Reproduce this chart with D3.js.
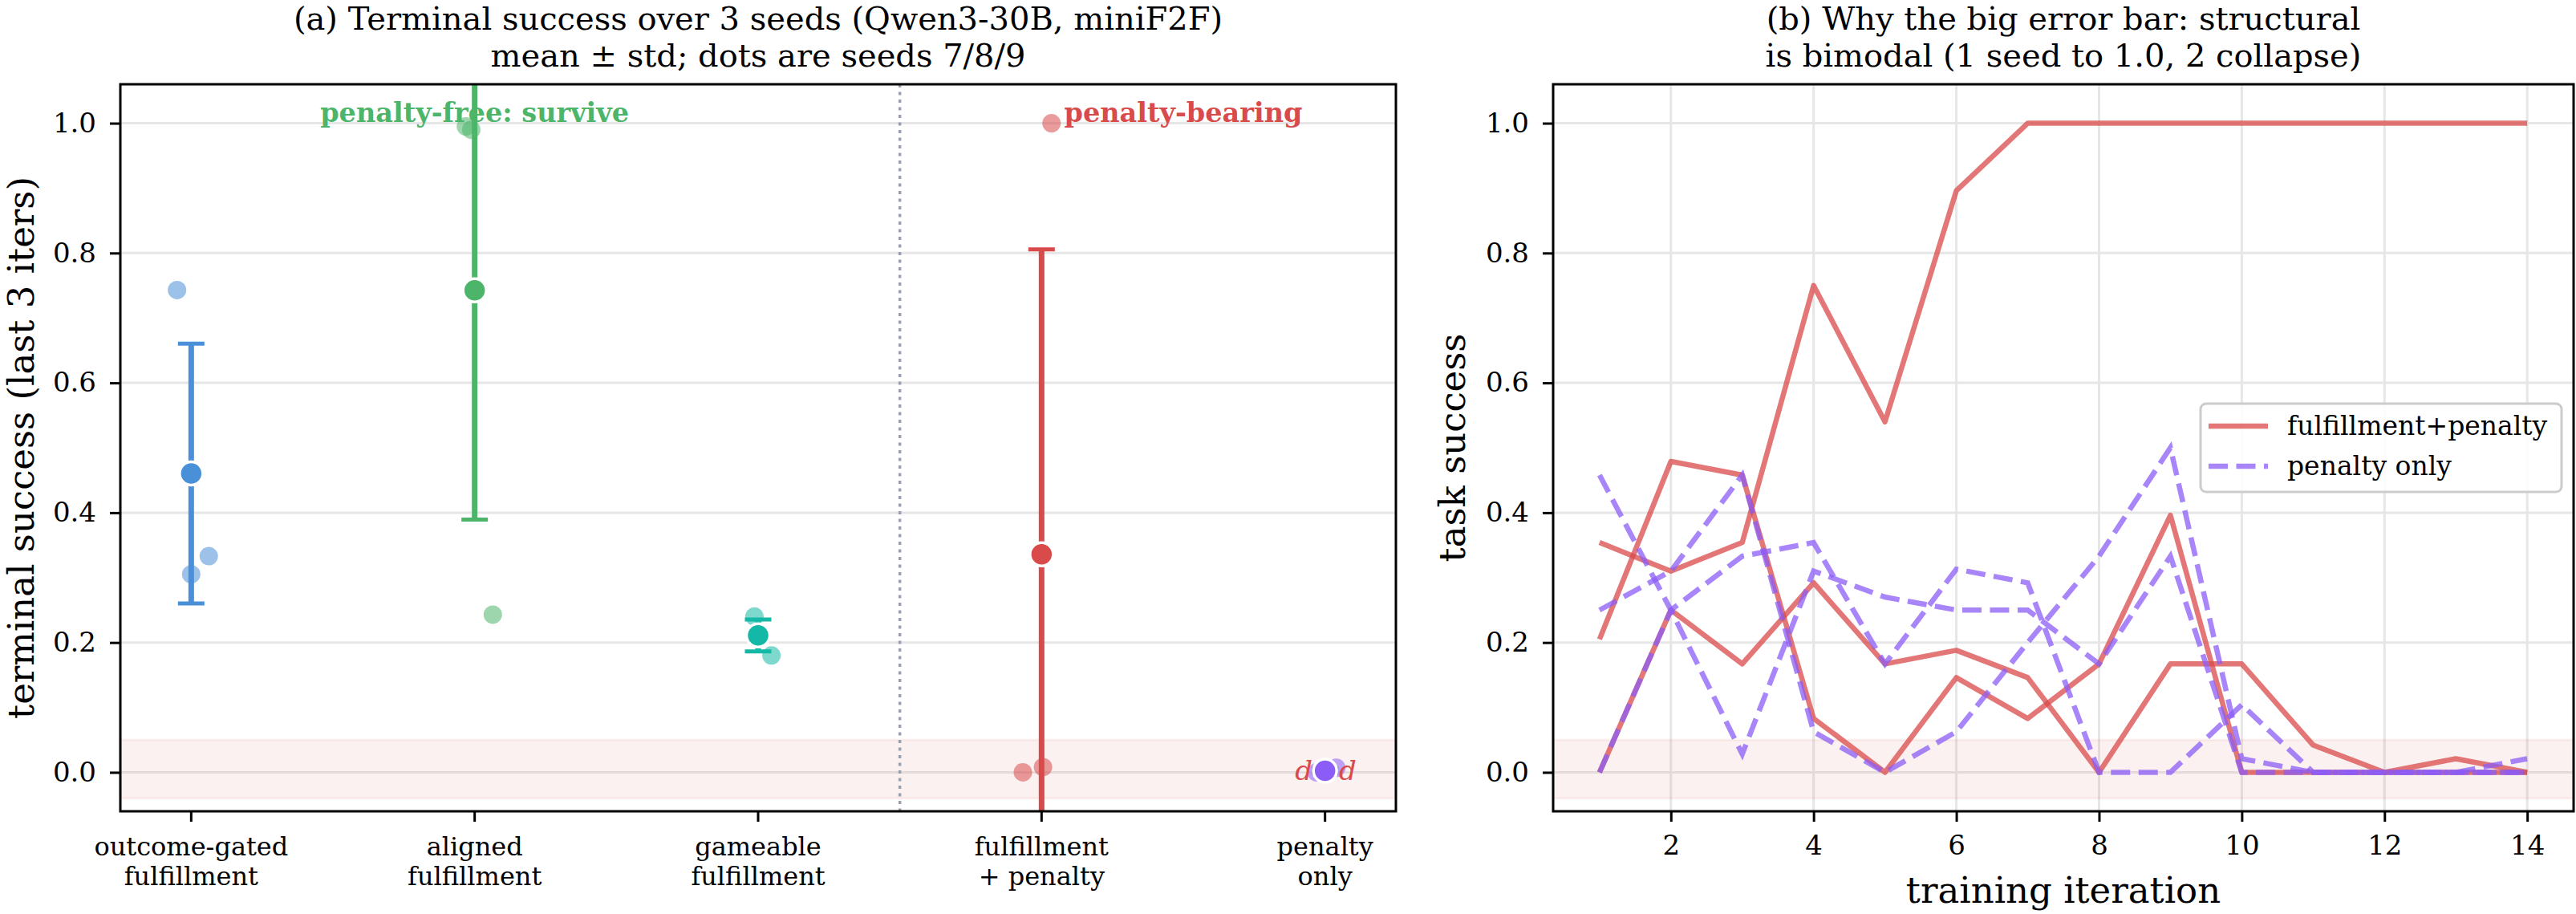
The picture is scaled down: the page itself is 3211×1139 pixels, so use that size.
<!DOCTYPE html>
<html>
<head>
    <script src="https://d3js.org/d3.v7.min.js"></script>
    <style>
        body { margin: 0; background: #fff; }
        text { font-family: "DejaVu Serif", serif; }
    </style>
</head>
<body>
    <div id="chart"></div>

    <script>
        // ---- data: panel (a) ----
        const categories = [
            ["outcome-gated", "fulfillment"],
            ["aligned", "fulfillment"],
            ["gameable", "fulfillment"],
            ["fulfillment", "+ penalty"],
            ["penalty", "only"]
        ];
        // terminal success per seed (7/8/9)
        const seedValues = [
            [0.743, 0.305, 0.333],
            [0.995, 0.99, 0.243],
            [0.24, 0.213, 0.18],
            [0.0, 0.008, 1.0],
            [0.0, 0.0, 0.007]
        ];
        const seedJitter = [
            [-0.05, 0, 0.062],
            [-0.031, -0.012, 0.064],
            [-0.013, 0, 0.047],
            [-0.066, 0.005, 0.035],
            [-0.03, 0, 0.04]
        ];
        const catColors = ["#4a90d9", "#4db56a", "#14b8a6", "#d94a4a", "#8b5cf6"];
        const yTicks = [0.0, 0.2, 0.4, 0.6, 0.8, 1.0];

        // ---- data: panel (b) ----
        const iterations = d3.range(1, 15);
        const fulfillPenalty = [
            [0.354, 0.31, 0.354, 0.75, 0.54, 0.896, 1, 1, 1, 1, 1, 1, 1, 1],
            [0.205, 0.479, 0.458, 0.083, 0, 0.146, 0.083, 0.167, 0.396, 0, 0, 0, 0, 0],
            [0, 0.25, 0.167, 0.292, 0.167, 0.188, 0.146, 0, 0.167, 0.167, 0.042, 0, 0.021, 0]
        ];
        const penaltyOnly = [
            [0.458, 0.25, 0.028, 0.31, 0.27, 0.25, 0.25, 0.167, 0.333, 0, 0, 0, 0, 0],
            [0, 0.25, 0.333, 0.354, 0.167, 0.313, 0.292, 0, 0, 0.104, 0, 0, 0, 0],
            [0.25, 0.31, 0.458, 0.0625, 0, 0.0625, 0.2, 0.333, 0.5, 0.021, 0, 0, 0, 0.021]
        ];
        const xTicksB = [2, 4, 6, 8, 10, 12, 14];

        const W = 3211, H = 1139;
        const svg = d3.select("#chart").append("svg")
            .attr("width", W).attr("height", H)
            .style("display", "block");
        svg.append("rect").attr("width", W).attr("height", H).attr("fill", "#fff");

        const plotTop = 105, plotBottom = 1011;
        const y = d3.scaleLinear().domain([-0.06, 1.06]).range([plotBottom, plotTop]);

        const gridColor = "#e6e6e6";
        const lineW = 6.5, dashes = "24,10.5";

        function drawYGrid(g, x0, x1) {
            g.append("g").selectAll("line").data(yTicks).join("line")
                .attr("x1", x0).attr("x2", x1)
                .attr("y1", d => y(d)).attr("y2", d => y(d))
                .attr("stroke", gridColor).attr("stroke-width", 3);
        }

        function band(g, x0, x1) {
            g.append("rect")
                .attr("x", x0).attr("width", x1 - x0)
                .attr("y", y(0.05)).attr("height", y(-0.04) - y(0.05))
                .attr("fill", "#d94a4a").attr("fill-opacity", 0.08)
                .attr("stroke", "#d94a4a").attr("stroke-opacity", 0.08)
                .attr("stroke-width", 3);
        }

        function frame(g, x0, x1) {
            g.append("rect").attr("x", x0).attr("y", plotTop)
                .attr("width", x1 - x0).attr("height", plotBottom - plotTop)
                .attr("fill", "none").attr("stroke", "#000").attr("stroke-width", 3);
            const ya = g.append("g").attr("transform", `translate(${x0},0)`)
                .call(d3.axisLeft(y).tickValues(yTicks).tickFormat(d3.format(".1f"))
                    .tickSize(13).tickPadding(17));
            ya.select(".domain").remove();
            ya.selectAll(".tick line").attr("stroke-width", 3);
            ya.selectAll(".tick text").attr("font-size", 34)
                .attr("font-family", "DejaVu Serif").attr("fill", "#000");
        }

        // ================= panel (a) =================
        const ax0 = 150, ax1 = 1740;
        const xa = d3.scaleLinear().domain([-0.25, 4.25]).range([ax0, ax1]);
        const pa = svg.append("g");

        pa.append("clipPath").attr("id", "clipA").append("rect")
            .attr("x", ax0).attr("y", plotTop).attr("width", ax1 - ax0).attr("height", plotBottom - plotTop);

        drawYGrid(pa, ax0, ax1);
        band(pa, ax0, ax1);

        pa.append("line")
            .attr("x1", xa(2.5)).attr("x2", xa(2.5)).attr("y1", plotTop).attr("y2", plotBottom)
            .attr("stroke", "#9aa0ab").attr("stroke-width", 3.5).attr("stroke-dasharray", "4,5.5");

        const stats = seedValues.map(v => {
            const m = d3.mean(v);
            const sd = Math.sqrt(d3.mean(v, d => (d - m) * (d - m)));
            return { mean: m, sd: sd };
        });

        const plotA = pa.append("g").attr("clip-path", "url(#clipA)");

        // error bars
        stats.forEach((s, i) => {
            const cx = xa(i);
            const c = catColors[i];
            plotA.append("line").attr("x1", cx).attr("x2", cx)
                .attr("y1", y(s.mean - s.sd)).attr("y2", y(s.mean + s.sd))
                .attr("stroke", c).attr("stroke-width", 7);
            [s.mean - s.sd, s.mean + s.sd].forEach(v => {
                plotA.append("line").attr("x1", cx - 16.5).attr("x2", cx + 16.5)
                    .attr("y1", y(v)).attr("y2", y(v))
                    .attr("stroke", c).attr("stroke-width", 5);
            });
        });

        // seed dots
        seedValues.forEach((vals, i) => {
            plotA.append("g").selectAll("circle").data(vals).join("circle")
                .attr("cx", (d, j) => xa(i + seedJitter[i][j]))
                .attr("cy", d => y(d))
                .attr("r", 11.5)
                .attr("fill", catColors[i]).attr("fill-opacity", 0.55);
        });

        // means
        plotA.append("g").selectAll("circle").data(stats).join("circle")
            .attr("cx", (d, i) => xa(i)).attr("cy", d => y(d.mean))
            .attr("r", 14.5)
            .attr("fill", (d, i) => catColors[i])
            .attr("stroke", "#fff").attr("stroke-width", 3.5);

        // "d" markers around penalty-only
        [-0.075, 0.08].forEach(off => {
            pa.append("text").attr("x", xa(4 + off)).attr("y", y(0) + 10)
                .attr("text-anchor", "middle").attr("font-size", 34)
                .attr("font-style", "italic").attr("fill", "#d94a4a").text("d");
        });

        pa.append("text").attr("x", xa(1)).attr("y", y(1.0) - 2)
            .attr("text-anchor", "middle").attr("font-size", 33.5).attr("font-weight", "bold")
            .attr("fill", "#4db56a").text("penalty-free: survive");
        pa.append("text").attr("x", xa(3.5)).attr("y", y(1.0) - 2)
            .attr("text-anchor", "middle").attr("font-size", 33.5).attr("font-weight", "bold")
            .attr("fill", "#d94a4a").text("penalty-bearing");

        frame(pa, ax0, ax1);

        // category ticks
        const xaAxis = pa.append("g").attr("transform", `translate(0,${plotBottom})`);
        categories.forEach((lines, i) => {
            xaAxis.append("line").attr("x1", xa(i)).attr("x2", xa(i)).attr("y1", 0).attr("y2", 13)
                .attr("stroke", "#000").attr("stroke-width", 3);
            const t = xaAxis.append("text").attr("x", xa(i)).attr("y", 55)
                .attr("text-anchor", "middle").attr("font-size", 32);
            lines.forEach((ln, k) => {
                t.append("tspan").attr("x", xa(i)).attr("dy", k === 0 ? 0 : 37).text(ln);
            });
        });

        pa.append("text").attr("transform", `translate(${ax0 - 108},${(plotTop + plotBottom) / 2}) rotate(-90)`)
            .attr("text-anchor", "middle").attr("font-size", 45)
            .text("terminal success (last 3 iters)");

        const titleA = pa.append("text").attr("x", (ax0 + ax1) / 2).attr("y", 37)
            .attr("text-anchor", "middle").attr("font-size", 40);
        titleA.append("tspan").attr("x", (ax0 + ax1) / 2).text("(a) Terminal success over 3 seeds (Qwen3-30B, miniF2F)");
        titleA.append("tspan").attr("x", (ax0 + ax1) / 2).attr("dy", 46).text("mean \u00b1 std; dots are seeds 7/8/9");

        // ================= panel (b) =================
        const bx0 = 1936, bx1 = 3208;
        const xb = d3.scaleLinear().domain([0.35, 14.65]).range([bx0, bx1]);
        const pb = svg.append("g");

        pb.append("clipPath").attr("id", "clipB").append("rect")
            .attr("x", bx0).attr("y", plotTop).attr("width", bx1 - bx0).attr("height", plotBottom - plotTop);

        drawYGrid(pb, bx0, bx1);
        pb.append("g").selectAll("line").data(xTicksB).join("line")
            .attr("x1", d => xb(d)).attr("x2", d => xb(d))
            .attr("y1", plotTop).attr("y2", plotBottom)
            .attr("stroke", gridColor).attr("stroke-width", 3);
        band(pb, bx0, bx1);

        const line = d3.line().x((d, i) => xb(iterations[i])).y(d => y(d));
        const plotB = pb.append("g").attr("clip-path", "url(#clipB)");

        plotB.append("g").selectAll("path").data(fulfillPenalty).join("path")
            .attr("d", line).attr("fill", "none")
            .attr("stroke", "#d94a4a").attr("stroke-opacity", 0.75)
            .attr("stroke-width", lineW).attr("stroke-linejoin", "round");

        plotB.append("g").selectAll("path").data(penaltyOnly).join("path")
            .attr("d", line).attr("fill", "none")
            .attr("stroke", "#8b5cf6").attr("stroke-opacity", 0.75)
            .attr("stroke-width", lineW).attr("stroke-dasharray", dashes);

        frame(pb, bx0, bx1);

        const xbAxis = pb.append("g").attr("transform", `translate(0,${plotBottom})`)
            .call(d3.axisBottom(xb).tickValues(xTicksB).tickSize(13).tickPadding(17));
        xbAxis.select(".domain").remove();
        xbAxis.selectAll(".tick line").attr("stroke-width", 3);
        xbAxis.selectAll(".tick text").attr("font-size", 34)
            .attr("font-family", "DejaVu Serif").attr("fill", "#000");

        pb.append("text").attr("transform", `translate(${bx0 - 110},${(plotTop + plotBottom) / 2}) rotate(-90)`)
            .attr("text-anchor", "middle").attr("font-size", 45).text("task success");
        pb.append("text").attr("x", (bx0 + bx1) / 2).attr("y", 1125)
            .attr("text-anchor", "middle").attr("font-size", 45).text("training iteration");

        const titleB = pb.append("text").attr("x", (bx0 + bx1) / 2).attr("y", 37)
            .attr("text-anchor", "middle").attr("font-size", 40);
        titleB.append("tspan").attr("x", (bx0 + bx1) / 2).text("(b) Why the big error bar: structural");
        titleB.append("tspan").attr("x", (bx0 + bx1) / 2).attr("dy", 46).text("is bimodal (1 seed to 1.0, 2 collapse)");

        // legend
        const lg = pb.append("g").attr("transform", "translate(2743,503)");
        lg.append("rect").attr("width", 450).attr("height", 110).attr("rx", 7)
            .attr("fill", "#fff").attr("fill-opacity", 0.85)
            .attr("stroke", "#cccccc").attr("stroke-width", 3);
        const legendItems = [
            { label: "fulfillment+penalty", color: "#d94a4a", dash: null },
            { label: "penalty only", color: "#8b5cf6", dash: dashes }
        ];
        legendItems.forEach((it, i) => {
            const yy = 28 + i * 50;
            lg.append("line").attr("x1", 10).attr("x2", 84).attr("y1", yy).attr("y2", yy)
                .attr("stroke", it.color).attr("stroke-opacity", 0.75).attr("stroke-width", lineW)
                .attr("stroke-dasharray", it.dash);
            lg.append("text").attr("x", 108).attr("y", yy + 11).attr("font-size", 33).text(it.label);
        });
    </script>
</body>
</html>
